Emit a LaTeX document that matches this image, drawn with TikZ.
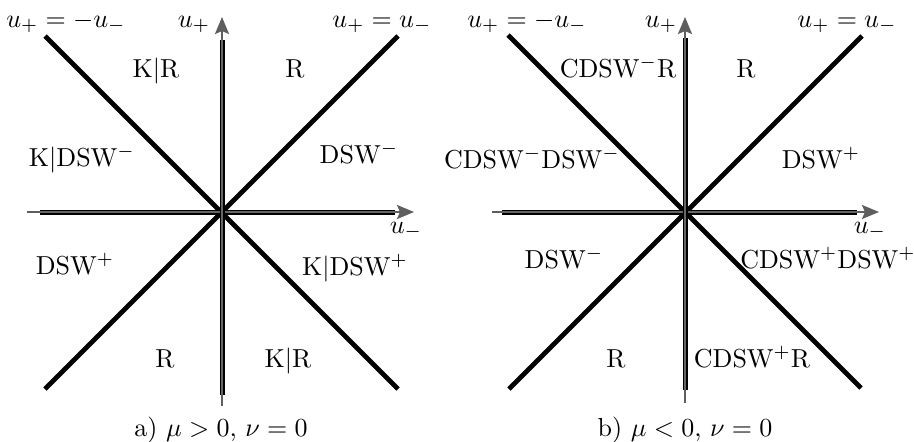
\documentclass[tikz,border=0pt]{standalone}
\usetikzlibrary{arrows.meta}
\definecolor{axgray}{HTML}{5E5E5E}
\definecolor{ingray}{HTML}{666666}
\tikzset{
  diag/.style={line width=4.8pt, black},
  axarrow/.style={line width=2.2pt, axgray, -{Stealth[length=17pt,width=14pt,inset=3pt]}},
  axbody/.style={draw=black, line width=1.5pt, double=ingray, double distance=2pt},
  lbl/.style={scale=2.6, inner sep=0pt, anchor=base},
}
\begin{document}
\begin{tikzpicture}[x=1pt,y=-1pt]
\useasboundingbox (0,0) rectangle (914,442);
% ---------- panel a ----------
\coordinate (oa) at (222,212);
\coordinate (aUL) at (45,36);
\coordinate (aLR) at (398,389);
\coordinate (aUR) at (398,36);
\coordinate (aLL) at (45,389);
\draw[diag] (aUL) -- (aLR);
\draw[diag] (aUR) -- (aLL);
\coordinate (aHs) at (27,212);
\coordinate (aHt) at (414,212);
\coordinate (aHb1) at (40,212);
\coordinate (aHb2) at (395,212);
\coordinate (aVs) at (222,406);
\coordinate (aVt) at (222,17);
\coordinate (aVb1) at (222,395);
\coordinate (aVb2) at (222,40);
\draw[axarrow] (aHs) -- (aHt);
\draw[axarrow] (aVs) -- (aVt);
\draw[axbody] (aHb1) -- (aHb2);
\draw[axbody] (aVb1) -- (aVb2);
\node[lbl] (a1) at (66,27) {$u_+=-u_-$};
\node[lbl] (a2) at (194,27) {$u_+$};
\node[lbl] (a3) at (382,27) {$u_+=u_-$};
\node[lbl] (a4) at (156,77) {K$|$R};
\node[lbl] (a5) at (295,77) {R};
\node[lbl] (a6) at (82,166) {K$|$DSW$^-$};
\node[lbl] (a7) at (359,163) {DSW$^-$};
\node[lbl] (a8) at (406,233) {$u_-$};
\node[lbl] (a9) at (75,274) {DSW$^+$};
\node[lbl] (a10) at (355,275) {K$|$DSW$^+$};
\node[lbl] (a11) at (165,367) {R};
\node[lbl] (a12) at (288,367) {K$|$R};
\node[lbl] (acap) at (221,436) {a) $\mu>0$, $\nu=0$};
% ---------- panel b ----------
\coordinate (ob) at (685,212);
\coordinate (bUL) at (508,35);
\coordinate (bLR) at (861,388);
\coordinate (bUR) at (862,36);
\coordinate (bLL) at (509,389);
\draw[diag] (bUL) -- (bLR);
\draw[diag] (bUR) -- (bLL);
\coordinate (bHs) at (492,212);
\coordinate (bHt) at (879,212);
\coordinate (bHb1) at (502,212);
\coordinate (bHb2) at (857,212);
\coordinate (bVs) at (685,403);
\coordinate (bVt) at (685,17);
\coordinate (bVb1) at (685,390);
\coordinate (bVb2) at (685,38);
\draw[axarrow] (bHs) -- (bHt);
\draw[axarrow] (bVs) -- (bVt);
\draw[axbody] (bHb1) -- (bHb2);
\draw[axbody] (bVb1) -- (bVb2);
\node[lbl] (b1) at (527,27) {$u_+=-u_-$};
\node[lbl] (b2) at (661,27) {$u_+$};
\node[lbl] (b3) at (847,27) {$u_+=u_-$};
\node[lbl] (b4) at (618,77) {CDSW$^-$R};
\node[lbl] (b5) at (746,77) {R};
\node[lbl] (b6) at (532,168) {CDSW$^-$DSW$^-$};
\node[lbl] (b7) at (821,168) {DSW$^+$};
\node[lbl] (b8) at (870,233) {$u_-$};
\node[lbl] (b9) at (564,268) {DSW$^-$};
\node[lbl] (b10) at (828,268) {CDSW$^+$DSW$^+$};
\node[lbl] (b11) at (616,367) {R};
\node[lbl] (b12) at (752,367) {CDSW$^+$R};
\node[lbl] (bcap) at (685,436) {b) $\mu<0$, $\nu=0$};
\end{tikzpicture}
\end{document}
